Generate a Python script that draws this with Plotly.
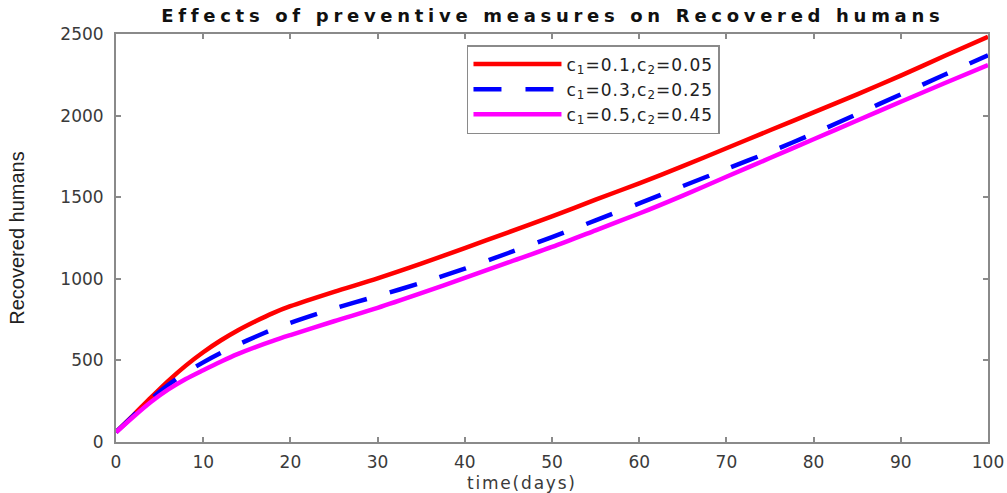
import plotly.graph_objects as go

# ---- data ----
time_days = [0, 2, 4, 6, 8, 10, 12, 14, 16, 18, 20, 25, 30, 35, 40, 45, 50,
             55, 60, 65, 70, 75, 80, 85, 90, 95, 100]
recovered_c1_01 = [60, 165, 272, 375, 468, 550, 622, 685, 740, 790, 832, 920, 1003,
                   1093, 1188, 1285, 1382, 1485, 1585, 1690, 1800, 1910, 2020,
                   2130, 2245, 2365, 2483]
recovered_c1_03 = [60, 162, 262, 350, 425, 488, 545, 597, 645, 690, 730, 818, 895,
                   975, 1062, 1158, 1255, 1358, 1462, 1568, 1673, 1778, 1890,
                   2010, 2130, 2250, 2370]
recovered_c1_05 = [60, 155, 245, 322, 386, 440, 492, 540, 582, 620, 655, 740, 822,
                   912, 1005, 1100, 1195, 1297, 1400, 1510, 1625, 1740, 1855,
                   1970, 2085, 2198, 2310]
series_names = ["c<sub>1</sub>=0.1,c<sub>2</sub>=0.05",
                "c<sub>1</sub>=0.3,c<sub>2</sub>=0.25",
                "c<sub>1</sub>=0.5,c<sub>2</sub>=0.45"]
x_ticks = [0, 10, 20, 30, 40, 50, 60, 70, 80, 90, 100]
y_ticks = [0, 500, 1000, 1500, 2000, 2500]

title_text = "Effects of preventive measures on Recovered humans"
x_title = "time(days)"
y_title = "Recovered humans"


def spaced(s, px):
    return f'<span style="letter-spacing:{px}px">{s}</span>'


fig = go.Figure()
fig.add_trace(go.Scatter(x=time_days, y=recovered_c1_01, name=spaced(series_names[0], 1),
                         mode="lines", line=dict(color="#FF0000", width=4.5,
                                                 shape="spline", smoothing=0.8)))
fig.add_trace(go.Scatter(x=time_days, y=recovered_c1_03, name=spaced(series_names[1], 1),
                         mode="lines", line=dict(color="#0000FF", width=4.5,
                                                 dash="28px,24px",
                                                 shape="spline", smoothing=0.8)))
fig.add_trace(go.Scatter(x=time_days, y=recovered_c1_05, name=spaced(series_names[2], 1),
                         mode="lines", line=dict(color="#FF00FF", width=4.5,
                                                 shape="spline", smoothing=0.8)))

axis_common = dict(showgrid=False, zeroline=False, showline=True,
                   linecolor="#8a8a8a", linewidth=2, mirror="ticks",
                   ticks="inside", ticklen=5, tickcolor="#8a8a8a", tickwidth=1.5,
                   automargin=False,
                   tickfont=dict(family="DejaVu Sans", size=17, color="#3a3a3a"))

fig.update_layout(
    width=1007, height=493,
    margin=dict(l=116, r=19, t=34, b=51),
    paper_bgcolor="white", plot_bgcolor="white",
    title=dict(text="<b>" + spaced(title_text, 4.7) + "</b>",
               x=0.549, xanchor="center", y=0.968, yanchor="middle",
               automargin=False,
               font=dict(family="DejaVu Sans", size=18, color="#111111")),
    xaxis=dict(range=[0, 100], tickvals=x_ticks, ticklabelstandoff=4, **axis_common),
    yaxis=dict(range=[0, 2500], tickvals=y_ticks, ticklabelstandoff=7,
               title=dict(text=y_title, standoff=30,
                          font=dict(family="Liberation Sans", size=20, color="#222222")),
               **axis_common),
    legend=dict(x=0.4025, y=0.973, xanchor="left", yanchor="top",
                bgcolor="white", bordercolor="#8a8a8a", borderwidth=1.5,
                itemwidth=88, tracegroupgap=0,
                font=dict(family="DejaVu Sans", size=17, color="#222222")),
    annotations=[dict(text=spaced(x_title, 1.8), xref="paper", yref="paper",
                      x=0.466, y=-0.1,
                      xanchor="center", yanchor="middle", showarrow=False,
                      font=dict(family="DejaVu Sans", size=17, color="#3a3a3a"))],
    showlegend=True,
)

fig.write_html("out.html")
